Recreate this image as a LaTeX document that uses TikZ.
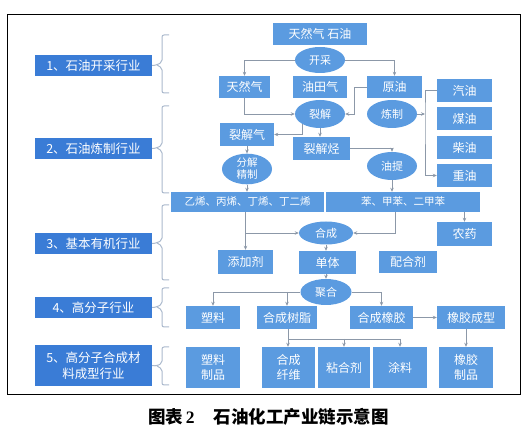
\documentclass[tikz,border=0pt]{standalone}
\usepackage{fontspec}
\setmainfont{Noto Sans CJK SC}
\newfontfamily\capnum{Liberation Serif}
\usetikzlibrary{arrows.meta,shapes.geometric}
\definecolor{rb}{RGB}{91,155,224}
\definecolor{lb}{RGB}{58,124,214}
\definecolor{ln}{RGB}{140,152,168}
\definecolor{br}{RGB}{170,184,204}
\begin{document}
\begin{tikzpicture}[x=1pt,y=-1pt,
  rbox/.style={fill=rb,text=white,inner sep=0pt,align=center,font=\fontsize{12}{15}\selectfont},
  lbox/.style={fill=lb,text=white,inner sep=0pt,align=center,minimum width=117,font=\fontsize{12.5}{16}\selectfont},
  ell/.style={ellipse,fill=rb,text=white,inner sep=0pt,align=center,font=\fontsize{11}{12}\selectfont},
  conn/.style={draw=ln,line width=0.7pt},
  arr/.style={conn,-{Stealth[length=4pt,width=3.5pt]}},
  bracepath/.style={draw=br,line width=1pt,rounded corners=2pt}]
\useasboundingbox (0,0) rectangle (531,430);
\draw[black,line width=0.9pt] (7,14) rectangle (520,394);

% left labels
\node[lbox,minimum height=21] (L1) at (93.5,65.5) {1、石油开采行业};
\node[lbox,minimum height=21] (L2) at (93.5,148.5) {2、石油炼制行业};
\node[lbox,minimum height=21] (L3) at (93.5,243.5) {3、基本有机行业};
\node[lbox,minimum height=21] (L4) at (93.5,307.5) {4、高分子行业};
\node[lbox,minimum height=41] (L5) at (93.5,365.5) {5、高分子合成材\\料成型行业};

% braces
\draw[bracepath] (L1.east) -- (157,65) -- (162,62) -- (162,35) -- (169,35);
\draw[bracepath] (157,65) -- (162,68) -- (162,93) -- (169,93);
\draw[bracepath] (L2.east) -- (157,148) -- (162,145) -- (162,106) -- (169,106);
\draw[bracepath] (157,148) -- (162,151) -- (162,193) -- (169,193);
\draw[bracepath] (L3.east) -- (157,243) -- (162,240) -- (162,205) -- (169,205);
\draw[bracepath] (157,243) -- (162,246) -- (162,280) -- (169,280);
\draw[bracepath] (L4.east) -- (157,307) -- (162,304) -- (162,288) -- (169,288);
\draw[bracepath] (157,307) -- (162,310) -- (162,327) -- (169,327);
\draw[bracepath] (L5.east) -- (157,366) -- (162,363) -- (162,347) -- (169,347);
\draw[bracepath] (157,366) -- (162,369) -- (162,385) -- (169,385);

% right side nodes
\node[rbox,minimum width=94,minimum height=22] (src) at (320,34) {天然气 石油};
\node[ell,minimum width=50,minimum height=26] (kc) at (320,60) {开采};
\node[rbox,minimum width=51,minimum height=22] (trq) at (244.5,87) {天然气};
\node[rbox,minimum width=54,minimum height=22] (ytq) at (320,87) {油田气};
\node[rbox,minimum width=55,minimum height=22] (yy) at (394.5,87) {原油};
\node[ell,minimum width=50,minimum height=28] (lj) at (320,114) {裂解};
\node[ell,minimum width=50,minimum height=28] (lz) at (392,114) {炼制};
\node[rbox,minimum width=54,minimum height=23] (ljq) at (247,134.5) {裂解气};
\node[rbox,minimum width=57,minimum height=23] (ljt) at (321.5,148.5) {裂解烃};
\node[ell,minimum width=50,minimum height=28,font=\fontsize{10.5}{12}\selectfont] (fj) at (247,169) {分解\\精制};
\node[ell,minimum width=50,minimum height=28] (yt) at (392,166) {油提};
\node[rbox,minimum width=55,minimum height=23] (qy) at (464.5,90.5) {汽油};
\node[rbox,minimum width=55,minimum height=23] (my) at (464.5,119) {煤油};
\node[rbox,minimum width=55,minimum height=23] (cy) at (464.5,147.5) {柴油};
\node[rbox,minimum width=55,minimum height=23] (zy) at (464.5,175.5) {重油};
\coordinate (lzj) at (425,114);

\node[rbox,minimum width=153,minimum height=20,font=\fontsize{10.5}{12}\selectfont] (yx) at (247.5,202) {乙烯、丙烯、丁烯、丁二烯};
\node[rbox,minimum width=154,minimum height=20,font=\fontsize{10.5}{12}\selectfont] (bz) at (403,202) {苯、甲苯、二甲苯};
\node[ell,minimum width=54,minimum height=23] (hc) at (326,233) {合成};
\node[rbox,minimum width=55,minimum height=24] (ny) at (464.5,234) {农药};
\node[rbox,minimum width=55,minimum height=24] (tjj) at (245.5,262) {添加剂};
\node[rbox,minimum width=57,minimum height=23] (dt) at (327.5,262.5) {单体};
\node[rbox,minimum width=58,minimum height=22] (phj) at (408,262) {配合剂};
\node[ell,minimum width=51,minimum height=26] (jh) at (326,292) {聚合};

\node[rbox,minimum width=54,minimum height=23] (sl) at (213,317.5) {塑料};
\node[rbox,minimum width=60,minimum height=23] (szs) at (287,317.5) {合成树脂};
\node[rbox,minimum width=63,minimum height=23] (xj) at (381.5,317.5) {合成橡胶};
\node[rbox,minimum width=68,minimum height=23] (xjcx) at (471,317.5) {橡胶成型};
\node[rbox,minimum width=54,minimum height=41] (slzp) at (213,367.5) {塑料\\制品};
\node[rbox,minimum width=53,minimum height=41] (xw) at (288.5,367.5) {合成\\纤维};
\node[rbox,minimum width=52,minimum height=41] (nhj) at (344,367.5) {粘合剂};
\node[rbox,minimum width=54,minimum height=41] (tl) at (400,367.5) {涂料};
\node[rbox,minimum width=54,minimum height=41] (xjzp) at (466,367.5) {橡胶\\制品};
\coordinate (rj) at (288,339);

% connectors
\draw[arr] (kc.west) -| (trq.north);
\draw[arr] (kc.east) -| (yy.north);
\draw[arr] (trq.south) |- (lj.west);
\draw[arr] (yy.west) -- ++(-12,0) |- (lj.east);
\draw[arr] (lj.south west) |- (ljq.east);
\draw[arr] (lj.south) -- (lj.south |- ljt.north);
\draw[arr] (ljt.east) -| (yt.north);
\draw[arr] (ljq.south) -- (fj.north);
\draw[arr] (fj.south) -- (fj.south |- yx.north);
\draw[arr] (yt.south) -- (yt.south |- bz.north);
\draw[arr] (lz.east) -- (lzj);
\draw[arr] (qy.west) -| (lzj) |- (zy.west);
\draw[arr] ([xshift=-8pt]bz.south) |- (hc.east);
\draw[arr] (ny.north |- bz.south) -- (ny.north);
\draw[arr] (yx.south -| tjj.north) -- (tjj.north);
\draw[arr] (tjj.north |- hc.west) -- (hc.west);
\draw[arr] (hc.south) -- (hc.south |- dt.north);
\draw[arr] (dt.south -| jh.north) -- (jh.north);
\draw[arr] (jh.west) -| (sl.north);
\draw[arr] (jh.west -| szs.north) -- (szs.north);
\draw[arr] (jh.east) -| (xj.north);
\draw[arr] (xj.east) -- (xjcx.west);
\draw[arr] (xjcx.south -| xjzp.north) -- (xjzp.north);
\draw[conn] (szs.south -| rj) -- (rj) -- (rj -| tl.north);
\draw[arr] (rj) -- (rj |- xw.north);
\draw[arr] (rj -| nhj.north) -- (nhj.north);
\draw[arr] (rj -| tl.north) -- (tl.north);

% caption
\node[font=\fontsize{17.5}{18}\bfseries\selectfont] (cap) at (268.5,417) {图表\,{\capnum\bfseries 2}\hspace{1.1em}石油化工产业链示意图};
\end{tikzpicture}
\end{document}
